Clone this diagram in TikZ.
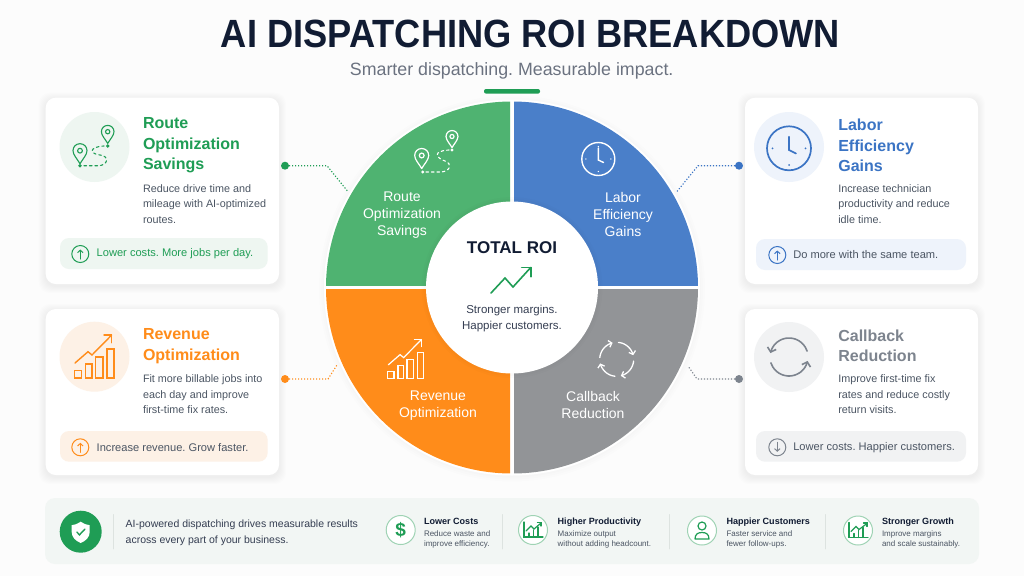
\documentclass[tikz,border=0pt]{standalone}
\usepackage{fontspec}
\usepackage{graphicx}
\setmainfont{Liberation Sans}
\usetikzlibrary{arrows.meta}
\frenchspacing
\definecolor{pagebg}{HTML}{FCFCFC}
\definecolor{navy}{HTML}{111C33}
\definecolor{slate}{HTML}{4B5563}
\definecolor{subgrey}{HTML}{6B7280}
\definecolor{grn}{HTML}{1F9D55}
\definecolor{grnring}{HTML}{4FB371}
\definecolor{grnsoft}{HTML}{EEF6F1}
\definecolor{grnrim}{HTML}{9FD3B4}
\definecolor{blu}{HTML}{3B74C4}
\definecolor{bluring}{HTML}{4A7FC9}
\definecolor{blusoft}{HTML}{EEF3FB}
\definecolor{org}{HTML}{FF8C1A}
\definecolor{orgsoft}{HTML}{FDF1E6}
\definecolor{gry}{HTML}{7D848E}
\definecolor{gryring}{HTML}{929497}
\definecolor{grysoft}{HTML}{F1F2F3}
\definecolor{stripbg}{HTML}{F2F6F4}
\definecolor{seprule}{HTML}{DDE3E0}
\tikzset{
  every node/.style={inner sep=0pt,outer sep=0pt},
  headline/.style={anchor=west,align=left,font=\bfseries\fontsize{16}{20.5}\selectfont},
  bodytext/.style={anchor=west,align=left,text=slate,font=\fontsize{10.8}{15.4}\selectfont},
  pilltext/.style={anchor=west,font=\fontsize{11.1}{13}\selectfont},
  ringtext/.style={align=center,text=white,font=\fontsize{14}{17}\selectfont},
  minihead/.style={anchor=west,text=navy,font=\bfseries\fontsize{9.05}{12}\selectfont},
  minibody/.style={anchor=west,align=left,text=slate,font=\fontsize{8}{10.7}\selectfont},
  dotmark/.style={circle,minimum size=8pt},
  leader/.style={line width=1.1pt,line cap=butt,dash pattern=on 1.2pt off 1.8pt},
  pillring/.style={circle,draw,line width=1pt,minimum size=17pt},
  minicircle/.style={circle,draw=grnrim,fill=white,line width=1pt,minimum size=29pt},
  seprl/.style={seprule,line width=0.8pt}
}
\newcommand{\softcard}[4]{%
  \foreach \k in {7,6,5,4,3,2,1}{%
    \fill[black,opacity=0.006,rounded corners=11pt] ({#1-\k},{#2-\k+2}) rectangle ({#3+\k},{#4+\k+2});}%
  \fill[white,rounded corners=10pt] (#1,#2) rectangle (#3,#4);}
\newcommand{\pinmark}[5]{%
  \begin{scope}[shift={(#1,#2)},scale=#3]
    \draw[#4,line width=#5,line join=round] (0,13) .. controls (-3,8) and (-7,4) .. (-7,0) .. controls (-7,-4) and (-4,-7) .. (0,-7) .. controls (4,-7) and (7,-4) .. (7,0) .. controls (7,4) and (3,8) .. (0,13) -- cycle;
    \draw[#4,line width=#5] (0,0) circle[radius=2.4];
  \end{scope}}
\newcommand{\growthbars}[5]{%
  \begin{scope}[shift={(#1,#2)},scale=#3,#4,line width=#5,line join=miter]
    \draw (0,-7.3) rectangle (7,0);
    \draw (11.4,-14) rectangle (17.7,0);
    \draw (21.4,-21) rectangle (28.7,0);
    \draw (32.7,-29) rectangle (39.7,0);
    \draw (0.7,-15) -- (13.7,-26.3) -- (17.7,-23) -- (37.4,-43);
    \draw (29.7,-43) -- (37.4,-43) -- (37.4,-35.3);
  \end{scope}}
\newcommand{\minichart}[3]{%
  \begin{scope}[shift={(#1,#2)},grn,line width=1.2pt]
    \draw (-9,-8) -- (-9,7) -- (10,7);
    \draw (-4,7) -- (-4,3) (0.5,7) -- (0.5,0) (5,7) -- (5,-3);
    \draw (-7,1) -- (-2,-4) -- (1,-1) -- (#3,-7);
    \draw (#3-3.5,-7.5) -- (#3,-7.5) -- (#3,-4);
  \end{scope}}
\begin{document}
\begin{tikzpicture}[x=1pt,y=-1pt,line cap=round]
\useasboundingbox (0,0) rectangle (1024,576);
\fill[pagebg] (0,0) rectangle (1024,576);

% header
\node[text=navy] (maintitle) at (530.5,33.7) {\resizebox{619pt}{27.5pt}{\bfseries AI DISPATCHING ROI BREAKDOWN}};
\node[text=subgrey,font=\fontsize{17.8}{20}\selectfont] (subtitle) at (511.7,70.5) {Smarter dispatching. Measurable impact.};
\fill[grn,rounded corners=2pt] (484,89) rectangle (540,93.6);

% cards
\softcard{45.7}{97.7}{279}{284}
\softcard{45.7}{309}{279}{475}
\softcard{745}{97.7}{978}{284}
\softcard{745}{309}{978}{475}

% ring
\foreach \k in {6,4,2}{\fill[black,opacity=0.006] (512,288.5) circle[radius=187+\k];}
\fill[white] (512,287.5) circle[radius=188];
\begin{scope}
  \clip (320,95) rectangle (510,285.7);
  \fill[grnring] (512,287.5) circle[radius=186];
\end{scope}
\begin{scope}
  \clip (514,95) rectangle (704,285.7);
  \fill[bluring] (512,287.5) circle[radius=186];
\end{scope}
\begin{scope}
  \clip (320,289.3) rectangle (510,480);
  \fill[org] (512,287.5) circle[radius=186];
\end{scope}
\begin{scope}
  \clip (514,289.3) rectangle (704,480);
  \fill[gryring] (512,287.5) circle[radius=186];
\end{scope}
\foreach \k in {4,2}{\fill[black,opacity=0.012] (512,287.5) circle[radius=86.5+\k];}
\fill[white] (512,287.5) circle[radius=86];

% ring labels
\node[ringtext] (ringroute) at (402,214.8) {Route\\Optimization\\Savings};
\node[ringtext] (ringlabor) at (623,214.8) {Labor\\Efficiency\\Gains};
\node[ringtext] (ringrev) at (438,405.4) {Revenue\\Optimization};
\node[ringtext] (ringcall) at (593,405.4) {Callback\\Reduction};

% ring icons
\pinmark{421.7}{155.5}{1}{white}{1.2pt}
\pinmark{452}{136.5}{0.85}{white}{1.2pt}
\fill[white] (422.7,172) circle[radius=1.7] (452,150) circle[radius=1.7];
\draw[white,line width=1.1pt,dash pattern=on 2.5pt off 3pt] (426,172) -- (440,172) .. controls (450,172) and (453,164) .. (445,161) .. controls (436,158) and (432,151) .. (449,150);
\draw[white,line width=1.4pt] (598.3,159) circle[radius=16.5];
\draw[white,line width=1.4pt] (598.3,148) -- (598.3,160) -- (603.5,162.5);
\fill[white] (598.3,146.5) circle[radius=0.7] (598.3,171.5) circle[radius=0.7] (585.8,159) circle[radius=0.7] (610.8,159) circle[radius=0.7];
\growthbars{387.7}{378.3}{0.9}{white}{1.2pt}
\begin{scope}[shift={(616.7,359.3)}]
  \foreach \a/\b in {84/14,-6/-76,-96/-166,174/104}{
    \draw[white,line width=1.3pt,-{Straight Barb[length=3pt,width=7pt]}] plot[smooth,domain=\a:\b,samples=12] ({17*cos(\x)},{-17*sin(\x)});}
\end{scope}

% centre
\node[text=navy,font=\bfseries\fontsize{17}{20}\selectfont] (totalroi) at (512,248) {TOTAL ROI};
\draw[grn,line width=1.6pt,line join=miter] (491,293) -- (505,278) -- (513,287) -- (530.7,267.5);
\draw[grn,line width=1.6pt,line join=miter] (521.7,267.5) -- (530.7,267.5) -- (530.7,276.7);
\node[align=center,text=navy!85!white,font=\fontsize{11.5}{16}\selectfont] (roinote) at (512,318.7) {Stronger margins.\\Happier customers.};

% connectors
\node[dotmark,fill=grn] (dotroute) at (285,165.7) {};
\coordinate (bendroute) at (327,165.7);
\coordinate (endroute) at (348,191.7);
\draw[leader,grn] (dotroute) -- (bendroute) -- (endroute);
\node[dotmark,fill=blu] (dotlabor) at (739,165.7) {};
\coordinate (bendlabor) at (698,165.7);
\coordinate (endlabor) at (676,192.7);
\draw[leader,blu] (dotlabor) -- (bendlabor) -- (endlabor);
\node[dotmark,fill=org] (dotrev) at (285,379) {};
\coordinate (bendrev) at (328,379);
\coordinate (endrev) at (337,365);
\draw[leader,org] (dotrev) -- (bendrev) -- (endrev);
\node[dotmark,fill=gry] (dotcall) at (739,379) {};
\coordinate (bendcall) at (697,379);
\coordinate (endcall) at (688,366);
\draw[leader,gry] (dotcall) -- (bendcall) -- (endcall);

% card: route
\fill[grnsoft] (94.5,147) circle[radius=35];
\pinmark{80}{150.7}{1}{grn}{1.1pt}
\pinmark{107.7}{131.7}{0.9}{grn}{1.1pt}
\fill[grn] (80,165.7) circle[radius=1.9] (107.7,146) circle[radius=1.9];
\draw[grn,line width=1.1pt,dash pattern=on 2.5pt off 3pt] (84,165.7) -- (98,165.7) .. controls (108,165.7) and (110,156) .. (100,155) .. controls (90,154) and (88,147) .. (104,146);
\node[headline,text=grn] (routehead) at (143,145.5) {Route\\Optimization\\Savings};
\node[bodytext] (routebody) at (143,203.8) {Reduce drive time and\\mileage with AI-optimized\\routes.};
\fill[grnsoft,rounded corners=9pt] (60,238) rectangle (267.7,269);
\node[pillring,draw=grn] (routeup) at (80.3,254) {};
\draw[grn,line width=1pt,-{Straight Barb[length=2.5pt,width=5.5pt]}] (80.3,259) -- (80.3,249.5);
\node[pilltext,text=grn] (routepill) at (96.7,254) {Lower costs. More jobs per day.};

% card: revenue
\fill[orgsoft] (94.5,356.7) circle[radius=35];
\growthbars{74.3}{378}{1}{org}{1.4pt}
\node[headline,text=org] (revhead) at (143,346) {Revenue\\Optimization};
\node[bodytext] (revbody) at (143,394.2) {Fit more billable jobs into\\each day and improve\\first-time fix rates.};
\fill[orgsoft,rounded corners=9pt] (60,431) rectangle (267.7,461.7);
\node[pillring,draw=org] (revup) at (80.3,447.3) {};
\draw[org,line width=1pt,-{Straight Barb[length=2.5pt,width=5.5pt]}] (80.3,452.3) -- (80.3,442.8);
\node[pilltext,text=slate] (revpill) at (96.7,447.3) {Increase revenue. Grow faster.};

% card: labor
\fill[blusoft] (789,147) circle[radius=35];
\draw[blu,line width=1.7pt] (789,148.3) circle[radius=22];
\draw[blu,line width=1.7pt] (789,136.7) -- (789,150) -- (796,153.5);
\fill[blu] (772.5,148.3) circle[radius=1] (805.5,148.3) circle[radius=1] (789,165) circle[radius=1];
\node[headline,text=blu] (laborhead) at (838.3,145.5) {Labor\\Efficiency\\Gains};
\node[bodytext] (laborbody) at (838.3,203.8) {Increase technician\\productivity and reduce\\idle time.};
\fill[blusoft,rounded corners=9pt] (756,239) rectangle (966,270);
\node[pillring,draw=blu] (laborup) at (777.3,255) {};
\draw[blu,line width=1pt,-{Straight Barb[length=2.5pt,width=5.5pt]}] (777.3,260) -- (777.3,250.5);
\node[pilltext,text=slate] (laborpill) at (793.3,255) {Do more with the same team.};

% card: callback
\fill[grysoft] (789,357) circle[radius=35];
\begin{scope}[shift={(789,357)}]
  \draw[gry,line width=1.6pt,-{Straight Barb[length=4pt,width=9pt]}] plot[smooth,domain=18:168,samples=12] ({19*cos(\x)},{-19*sin(\x)});
  \draw[gry,line width=1.6pt,-{Straight Barb[length=4pt,width=9pt]}] plot[smooth,domain=198:348,samples=12] ({19*cos(\x)},{-19*sin(\x)});
\end{scope}
\node[headline,text=gry] (callhead) at (838.3,346) {Callback\\Reduction};
\node[bodytext] (callbody) at (838.3,394.2) {Improve first-time fix\\rates and reduce costly\\return visits.};
\fill[grysoft,rounded corners=9pt] (756,431) rectangle (966,461.7);
\node[pillring,draw=gry] (calldown) at (777.3,447.3) {};
\draw[gry,line width=1pt,-{Straight Barb[length=2.5pt,width=5.5pt]}] (777.3,442.3) -- (777.3,451.8);
\node[pilltext,text=slate] (callpill) at (793.3,447.3) {Lower costs. Happier customers.};

% bottom strip
\fill[stripbg,rounded corners=10pt] (45,498) rectangle (979,564);
\node[circle,fill=grn,minimum size=42pt] (shieldmark) at (80.7,531.7) {};
\fill[white,line join=round] (80.7,521.7) .. controls (77,524) and (74.5,525) .. (71.7,525.2) -- (71.7,532) .. controls (71.7,537.5) and (76,541) .. (80.7,543) .. controls (85.4,541) and (89.7,537.5) .. (89.7,532) -- (89.7,525.2) .. controls (87,525) and (84.4,524) .. (80.7,521.7) -- cycle;
\draw[grn,line width=1.4pt] (76.8,532) -- (79.5,534.8) -- (84.8,529.2);
\draw[seprl] (113.5,514.5) -- (113.5,549);
\node[anchor=west,align=left,text=navy!85!white,font=\fontsize{10.5}{15.8}\selectfont] (stripnote) at (125.7,532.5) {AI-powered dispatching drives measurable results\\across every part of your business.};

\node[minicircle] (iconcost) at (400.7,530) {};
\node[text=grn,font=\bfseries\fontsize{19}{20}\selectfont] (dollar) at (400.7,530) {\$};
\node[minihead] (costhead) at (424,521.7) {Lower Costs};
\node[minibody] (costbody) at (424,539.5) {Reduce waste and\\improve efficiency.};
\draw[seprl] (502.5,514.5) -- (502.5,549);

\node[minicircle] (iconprod) at (533,530) {};
\minichart{533}{530}{8}
\node[minihead] (prodhead) at (557.7,521.7) {Higher Productivity};
\node[minibody] (prodbody) at (557.7,539.5) {Maximize output\\without adding headcount.};
\draw[seprl] (669,514.5) -- (669,549);

\node[minicircle] (iconcust) at (702,530.5) {};
\draw[grn,line width=1.2pt] (702,526) circle[radius=4];
\draw[grn,line width=1.2pt,line join=round] (695,539) .. controls (695,534) and (698,532.5) .. (702,532.5) .. controls (706,532.5) and (709,534) .. (709,539) -- cycle;
\node[minihead] (custhead) at (726.5,521.7) {Happier Customers};
\node[minibody] (custbody) at (726.5,539.5) {Faster service and\\fewer follow-ups.};
\draw[seprl] (825.7,514.5) -- (825.7,549);

\node[minicircle] (icongrow) at (858,530.5) {};
\minichart{858}{530.5}{9}
\node[minihead] (growhead) at (882,521.7) {Stronger Growth};
\node[minibody] (growbody) at (882,539.5) {Improve margins\\and scale sustainably.};
\end{tikzpicture}
\end{document}
